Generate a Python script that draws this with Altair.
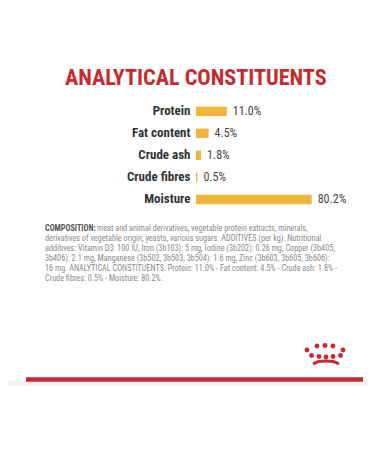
import altair as alt
import pandas as pd

# ---- data ----
categories = ["Protein", "Fat content", "Crude ash", "Crude fibres", "Moisture"]
values = [11.0, 4.5, 1.8, 0.5, 80.2]

title_text = "ANALYTICAL CONSTITUENTS"
comp_head = "COMPOSITION:"
comp_first = "meat and animal derivatives, vegetable protein extracts, minerals,"
comp_rest = [
    "derivatives of vegetable origin, yeasts, various sugars. ADDITIVES (per kg): Nutritional",
    "additives: Vitamin D3: 100 IU, Iron (3b103): 5 mg, Iodine (3b202): 0.26 mg, Copper (3b405,",
    "3b406): 2.1 mg, Manganese (3b502, 3b503, 3b504): 1.6 mg, Zinc (3b603, 3b605, 3b606):",
    "16 mg. ANALYTICAL CONSTITUENTS: Protein: 11.0% - Fat content: 4.5% - Crude ash: 1.8% -",
    "Crude fibres: 0.5% - Moisture: 80.2%.",
]

# crown logo (decoration) dot positions in page pixels
crown_x = [307, 317, 325, 333, 343, 311.5, 319, 326, 333, 340.5]
crown_y = [350, 346, 345.5, 346, 350, 355.5, 356.5, 357, 356.5, 355.5]
arc_x = [313, 319, 326, 333, 339]
arc_y = [364, 361.5, 361, 361.5, 364]

FONT = "Roboto Condensed"
RED = "#c62a30"
GOLD = "#f0b53a"
O = 8  # page margin offset

df = pd.DataFrame({"cat": categories, "value": values})

xs = alt.Scale(domain=[0, 41.3], range=[196 - O, 311.7 - O], clamp=True)
ys = alt.Scale(domain=categories, range=[100.4 - O, 210.4 - O],
               paddingInner=0.568, paddingOuter=0.284)

base = alt.Chart(df)
bars = base.mark_bar(color=GOLD).encode(
    x=alt.X("value:Q", scale=xs, axis=None),
    x2=alt.datum(0),
    y=alt.Y("cat:N", scale=ys, axis=None, sort=categories),
)
cat_labels = base.mark_text(align="right", baseline="middle", font=FONT,
                            fontSize=13, fontWeight="bold", color="#333333").encode(
    x=alt.value(190.5 - O),
    y=alt.Y("cat:N", scale=ys, axis=None, sort=categories),
    text="cat:N",
)
val_labels = base.transform_calculate(
    lab="format(datum.value, '.1f') + '%'"
).mark_text(align="left", baseline="middle", dx=6, font=FONT, fontSize=12,
            color="#444444").encode(
    x=alt.X("value:Q", scale=xs, axis=None),
    y=alt.Y("cat:N", scale=ys, axis=None, sort=categories),
    text="lab:N",
)

one = pd.DataFrame({"a": [0]})
title = alt.Chart(one).mark_text(align="center", baseline="alphabetic", font=FONT,
                                 fontSize=22.2, fontWeight="bold", color=RED).encode(
    x=alt.value(195.8 - O), y=alt.value(85 - O), text=alt.value(title_text))

head = alt.Chart(one).mark_text(align="left", baseline="middle", font=FONT,
                                fontSize=8.2, fontWeight="bold", color="#555555").encode(
    x=alt.value(45 - O), y=alt.value(229.3 - O), text=alt.value(comp_head))
first = alt.Chart(one).mark_text(align="left", baseline="middle", font=FONT,
                                 fontSize=8.2, color="#8a8a8a").encode(
    x=alt.value(97 - O), y=alt.value(229.3 - O), text=alt.value(comp_first))
rest = alt.Chart(one).mark_text(align="left", baseline="top", font=FONT,
                                fontSize=8.2, color="#8a8a8a", lineBreak="\n",
                                lineHeight=10).encode(
    x=alt.value(45 - O), y=alt.value(234.5 - O), text=alt.value("\n".join(comp_rest)))

cdf = pd.DataFrame({"x": [v - O for v in crown_x], "y": [v - O for v in crown_y]})
ident_x = alt.Scale(domain=[0, 359], range=[0, 359])
ident_y = alt.Scale(domain=[0, 434], range=[0, 434])
dots = alt.Chart(cdf).mark_circle(color=RED, size=24, opacity=1).encode(
    x=alt.X("x:Q", scale=ident_x, axis=None),
    y=alt.Y("y:Q", scale=ident_y, axis=None),
)
adf = pd.DataFrame({"x": [v - O for v in arc_x], "y": [v - O for v in arc_y], "o": range(5)})
arc = alt.Chart(adf).mark_line(color=RED, strokeWidth=3, interpolate="monotone").encode(
    x=alt.X("x:Q", scale=ident_x, axis=None),
    y=alt.Y("y:Q", scale=ident_y, axis=None),
    order="o:Q",
)

gray = alt.Chart(one).mark_rule(color="#f1f1f1", strokeWidth=5).encode(
    x=alt.value(-O), x2=alt.value(375 - O), y=alt.value(383 - O))
redline = alt.Chart(one).mark_rule(color=RED, strokeWidth=4.5).encode(
    x=alt.value(26 - O), x2=alt.value(363 - O), y=alt.value(379.5 - O))

chart = alt.layer(
    gray, redline, title, bars, cat_labels, val_labels, head, first, rest, arc, dots
).resolve_scale(x="independent", y="independent").properties(
    width=359, height=434, padding=0, autosize="none", background="white"
).configure_view(stroke=None)

chart.save("out.html", embed_options={"renderer": "svg", "actions": False})
